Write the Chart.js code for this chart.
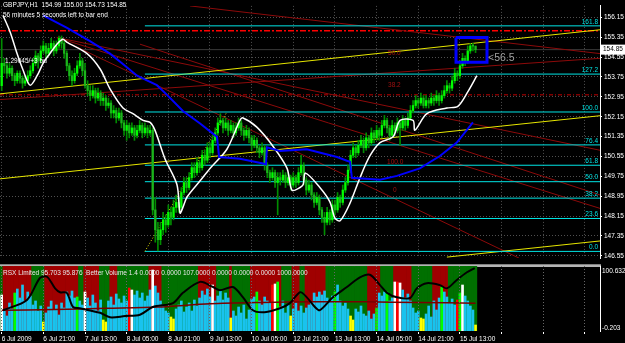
<!DOCTYPE html>
<html>
<head>
<meta charset="utf-8">
<script src="https://cdn.jsdelivr.net/npm/chart.js@4.4.0/dist/chart.umd.min.js"></script>
<style>
html, body { margin: 0; padding: 0; background: #000; }
#wrap { position: relative; width: 625px; height: 343px; background: #000; overflow: hidden; }
canvas { position: absolute; left: 0; }
#main { top: 0; }
#sub { top: 264px; }
</style>
</head>
<body>
<div id="wrap">
  <canvas id="main" width="625" height="264"></canvas>
  <canvas id="sub" width="625" height="79"></canvas>
</div>
<script>
// GBPJPY H1, bar 0 = 6 Jul 2009 00:00
const timeLabels = ['6 Jul 2009', '6 Jul 21:00', '7 Jul 13:00', '8 Jul 05:00', '8 Jul 21:00', '9 Jul 13:00',
    '10 Jul 05:00', '12 Jul 21:00', '13 Jul 13:00', '14 Jul 05:00', '14 Jul 21:00', '15 Jul 13:00'];
const barsPerLabel = 16;
const priceTicks = [146.55, 147.35, 148.15, 148.95, 149.75, 150.55, 151.35, 152.15, 152.95, 153.75, 154.55, 155.35, 156.15];

const firstOpen = 153.4;
const closes = [
    154.3, 154.2, 153.9, 154.1, 153.8, 153.6, 153.9, 153.7, 153.5, 153.6,
    153.8, 154.0, 154.3, 154.6, 154.4, 154.8, 155.0, 154.7, 154.9, 155.1,
    154.8, 155.0, 155.3, 155.1, 154.7, 154.2, 153.8, 153.6, 153.9, 154.2,
    154.4, 154.0, 153.4, 153.2, 153.0, 153.2, 152.9, 153.1, 152.8, 152.9,
    152.6, 152.7, 152.3, 152.4, 152.1, 152.3, 151.9, 151.6, 151.8, 151.5,
    151.7, 151.4, 151.6, 151.8, 151.5, 151.7, 151.5, 151.6, 148.4, 147.6,
    147.2, 147.6, 148.0, 147.8, 148.3, 148.1, 148.5, 148.7, 148.5, 149.1,
    149.5, 149.3, 149.7, 150.1, 149.9, 150.3, 150.1, 150.6, 150.4, 150.9,
    150.7, 151.2, 151.5, 151.9, 152.0, 151.7, 151.9, 151.6, 151.8, 151.5,
    151.7, 151.9, 151.6, 151.4, 151.6, 151.3, 151.0, 151.2, 150.9, 150.7,
    150.9, 150.2, 149.9, 149.7, 149.9, 149.5, 149.7, 149.6, 149.8, 149.5,
    149.7, 149.4, 149.7, 149.5, 149.9, 150.2, 149.6, 149.2, 149.4, 149.0,
    148.7, 148.9, 148.4, 148.1, 147.9, 148.3, 148.0, 148.6, 148.4, 148.9,
    148.7, 149.2, 149.5, 150.0, 150.6, 150.9, 150.7, 151.0, 151.2, 150.9,
    151.3, 151.1, 151.5, 151.3, 151.6, 151.4, 151.8, 152.0, 151.7, 151.4,
    151.8, 151.6, 151.9, 151.7, 152.0, 151.8, 152.1, 152.4, 152.6, 152.8,
    152.7, 152.9, 152.6, 152.8, 152.7, 152.9, 152.8, 153.0, 152.8, 153.0,
    153.2, 153.4, 153.3, 153.6, 153.9, 153.8, 154.2, 154.5, 154.4, 154.8,
    155.0, 154.99, 154.85
];
const highs = [
    155.3, 154.5, 154.3, 154.3, 154.2, 153.9, 154.0, 154.0, 153.8, 153.8,
    154.0, 154.2, 154.5, 154.8, 154.7, 155.0, 155.2, 155.1, 155.1, 155.3,
    155.2, 155.2, 155.4, 155.4, 155.2, 154.8, 154.3, 154.0, 154.1, 154.4,
    154.7, 154.5, 154.3, 153.6, 153.4, 153.4, 153.3, 153.3, 153.2, 153.1,
    153.0, 152.9, 152.8, 152.6, 152.5, 152.5, 152.4, 152.0, 152.0, 151.9,
    151.9, 151.8, 151.8, 152.0, 151.9, 151.9, 151.8, 151.8, 151.7, 148.9,
    147.9, 147.9, 148.3, 148.2, 148.6, 148.5, 148.8, 149.0, 148.9, 149.3,
    149.7, 149.7, 149.9, 150.3, 150.3, 150.5, 150.4, 150.8, 150.8, 151.1,
    151.1, 151.4, 151.7, 152.1, 152.27, 152.1, 152.1, 152.0, 152.0, 151.9,
    151.9, 152.1, 152.0, 151.7, 151.8, 151.7, 151.4, 151.4, 151.3, 151.0,
    151.1, 151.0, 150.3, 150.0, 150.1, 150.0, 149.9, 149.9, 150.0, 149.9,
    149.9, 149.8, 149.9, 149.8, 150.1, 150.6, 150.3, 149.7, 149.6, 149.5,
    149.1, 149.1, 149.0, 148.5, 148.3, 148.5, 148.4, 148.8, 148.8, 149.1,
    149.0, 149.4, 149.7, 150.2, 150.8, 151.1, 151.0, 151.2, 151.4, 151.3,
    151.5, 151.4, 151.7, 151.6, 151.8, 151.7, 152.0, 152.2, 152.1, 151.8,
    152.0, 151.9, 152.1, 152.0, 152.2, 152.1, 152.3, 152.6, 152.8, 153.0,
    152.9, 153.1, 153.0, 153.0, 152.9, 153.1, 153.0, 153.2, 153.1, 153.2,
    153.4, 153.6, 153.5, 153.8, 154.1, 154.0, 154.4, 154.7, 154.6, 155.0,
    155.1, 155.1, 155.00
];
const lows = [
    153.2, 153.9, 153.7, 153.8, 153.6, 153.4, 153.5, 153.5, 153.3, 153.4,
    153.5, 153.7, 153.9, 154.2, 154.1, 154.3, 154.7, 154.5, 154.6, 154.8,
    154.6, 154.7, 154.9, 154.9, 154.5, 154.0, 153.6, 153.4, 153.5, 153.8,
    154.1, 153.8, 153.3, 153.0, 152.8, 152.9, 152.7, 152.8, 152.6, 152.6,
    152.4, 152.5, 152.1, 152.1, 151.9, 152.0, 151.7, 151.4, 151.2, 151.3,
    151.4, 151.2, 151.3, 151.5, 151.3, 151.4, 151.3, 151.4, 148.2, 147.1,
    146.75, 147.0, 147.4, 147.5, 147.7, 147.8, 148.0, 148.3, 148.3, 148.4,
    149.0, 149.1, 149.2, 149.6, 149.7, 149.8, 149.9, 150.0, 150.2, 150.3,
    150.5, 150.6, 151.1, 151.4, 151.8, 151.5, 151.6, 151.4, 151.5, 151.3,
    151.4, 151.6, 151.4, 151.2, 151.3, 151.1, 150.8, 150.9, 150.7, 150.5,
    150.6, 150.0, 149.7, 149.5, 149.6, 149.3, 148.2, 149.4, 149.5, 149.3,
    149.4, 149.2, 149.3, 149.3, 149.4, 149.8, 149.4, 149.0, 149.1, 148.8,
    148.5, 148.6, 148.2, 147.9, 147.4, 147.8, 147.8, 147.9, 148.2, 148.3,
    148.5, 148.6, 149.1, 149.4, 149.9, 150.5, 150.5, 150.6, 150.9, 150.7,
    150.8, 150.9, 151.0, 151.1, 151.2, 151.2, 151.3, 151.7, 151.5, 151.2,
    151.3, 151.4, 151.5, 151.0, 151.6, 151.6, 151.7, 152.0, 152.3, 152.5,
    152.5, 152.6, 152.5, 152.5, 152.5, 152.6, 152.6, 152.7, 152.6, 152.7,
    152.9, 153.1, 153.1, 153.2, 153.5, 153.6, 153.7, 154.1, 154.2, 154.3,
    154.7, 154.8, 154.73
];

// moving averages: [bar, price]
const maFast = [[0.5, 156.23], [3.2, 155.57], [5.9, 154.69], [8.2, 154.03], [10.9, 153.42], [13.6, 153.8],
    [15.9, 154.3], [18.5, 154.69], [21.2, 155.07], [23.5, 155.27], [25, 155.15], [32.8, 154.69], [37.8, 154.07],
    [41.6, 153.27], [46.6, 152.5], [50.4, 152.27], [54.3, 152.0], [57, 151.92], [58.9, 151.6], [62.7, 150.46],
    [67.3, 149.42], [68.5, 148.27], [69.6, 148.5], [71.2, 148.92], [76.2, 149.57], [80, 150.07], [86.5, 150.84],
    [91.5, 152.0], [92.7, 152.1], [98, 151.73], [104.2, 150.96], [109.6, 150.07], [111.5, 149.19], [114.6, 149.3],
    [115.8, 149.42], [116.7, 149.88], [122.2, 149.3], [126, 148.73], [128, 148.07], [130, 147.96], [133.7, 148.65],
    [137.6, 149.69], [141.4, 150.57], [145.3, 151.11], [150.3, 151.34], [153, 152.0], [158, 152.0], [158.7, 151.61],
    [163.3, 152.27], [171, 152.5], [175.2, 152.57], [179, 153.15], [182.5, 153.8]];
const maSlow = [[15.9, 156.23], [25.1, 155.73], [33.9, 155.19], [41.6, 154.69], [46.2, 154.3], [52, 153.8],
    [59.6, 153.42], [63.5, 153.03], [69.6, 152.38], [76.2, 151.88], [82.7, 151.34], [83.5, 150.53], [91.5, 150.46],
    [100.4, 150.27], [101.5, 150.23], [101.9, 150.92], [106.9, 150.77], [117.2, 150.84], [128.8, 150.53],
    [132.6, 150.38], [133.8, 150.34], [134.5, 149.69], [145.3, 149.61], [151.8, 149.77], [160.6, 150.07],
    [168.3, 150.57], [174.8, 151.11], [181, 151.92]];

// fibonacci retracement: from the 8 Jul low to the 9 Jul high
const fibFrom = [55, 146.73];
const fibTo = [86.5, 152.34];
const fibLevels = [0, 23.6, 38.2, 50, 61.8, 76.4, 100, 127.2, 161.8];

// drawn objects: [bar1, price1, bar2, price2]
const channelLines = [[-0.65, 153.07, 229.8, 155.65], [-0.65, 149.65, 229.8, 152.19], [171, 146.50, 229.8, 147.15]];
const redLines = [[72.3, 156.61, 229.8, 154.69], [21.2, 155.34, 229.8, 150.8], [21.2, 155.34, 229.8, 148.46],
    [21.2, 155.34, 198.7, 146.46], [53.1, 155.07, 229.8, 149.0], [-0.65, 152.84, 229.8, 154.5]];
const redLineLabels = [[148.4, 154.69, '50.0'], [148.4, 153.42, '38.2'], [148, 150.3, '100.0'], [150.3, 149.19, '0']];
const redDashDot = 155.61;
const redDashed = [-0.65, 153.03];
const boxCorners = [[174.5, 155.34], [186.4, 155.34], [186.4, 154.34], [174.5, 154.34], [174.5, 155.34]];
const boxNote = '<56.5';
const lastBar = { o: 154.99, h: 155.00, l: 154.73, c: 154.85 };
const headerText = 'GBPJPY,H1  154.99 155.00 154.73 154.85';
const timerText = '56 minutes 5 seconds left to bar end';
const sideNote = '1.29045/+3 bu';

// lower window: Better Volume + RSX
const volume = [
    360, 200, 150, 280, 220, 380, 420, 330, 460, 300,
    390, 350, 260, 300, 200, 250, 90, 180, 240, 300,
    210, 260, 160, 280, 230, 390, 350, 400, 330, 340,
    300, 260, 390, 330, 250, 360, 280, 200, 310, 110,
    90, 300, 340, 260, 370, 320, 280, 350, 300, 430,
    410, 360, 400, 330, 380, 300, 350, 410, 610, 450,
    380, 300, 260, 200, 180, 140, 120, 220, 260, 300,
    190, 240, 280, 200, 310, 250, 330, 400, 360, 420,
    340, 460, 300, 350, 400, 310, 380, 330, 130, 200,
    150, 240, 180, 260, 120, 210, 320, 340, 390, 300,
    260, 340, 300, 280, 460, 470, 490, 240, 300, 180,
    260, 150, 220, 280, 200, 250, 180, 230, 260, 290,
    380, 340, 390, 360, 400, 330, 300, 350, 390, 460,
    300, 250, 280, 220, 150, 110, 220, 190, 250, 170,
    150, 200, 120, 170, 230, 380, 350, 390, 390, 300,
    330, 490, 490, 480, 410, 330, 370, 300, 230, 180,
    200, 130, 120, 170, 250, 140, 300, 210, 330, 440,
    390, 340, 280, 320, 260, 310, 380, 460, 350, 300,
    250, 210, 60
];
// bar colour codes, everything else is the normal blue bar
const volSpecial = { 0: 'w', 5: 'g', 16: 'y', 29: 'g', 32: 'w', 39: 'y', 40: 'y', 49: 'r', 50: 'w', 58: 'w',
    65: 'y', 66: 'y', 81: 'w', 88: 'y', 98: 'g', 104: 'r', 105: 'w', 106: 'g', 111: 'y', 128: 'g', 134: 'y',
    135: 'y', 144: 'g', 148: 'g', 151: 'w', 152: 'r', 153: 'w', 161: 'y', 162: 'y', 169: 'g', 175: 'r',
    176: 'g', 177: 'w', 182: 'y' };
// RSX trend state: [first bar, last bar, 1 = up / -1 = down]
const regimeRuns = [[0, 0, 1], [1, 11, -1], [12, 16, 1], [17, 29, -1], [30, 31, 1], [32, 37, -1], [38, 41, 1],
    [42, 44, -1], [45, 56, 1], [57, 61, -1], [62, 75, 1], [76, 82, -1], [83, 87, 1], [88, 88, -1], [89, 95, 1],
    [96, 107, -1], [108, 111, 1], [112, 114, -1], [115, 116, 1], [117, 124, -1], [125, 140, 1], [141, 145, -1],
    [146, 150, 1], [151, 157, -1], [158, 165, 1], [166, 171, -1], [172, 182, 1]];
const rsx = [[0.5, 32], [9.7, 48], [14.7, 82], [17.4, 84], [20.5, 66], [22.4, 60], [25, 59], [27.4, 37], [30, 35],
    [37.8, 28], [41.6, 21], [47.4, 23], [53.1, 25], [58, 37], [65.8, 43], [69.6, 59], [76.2, 76], [81.2, 68],
    [83.8, 63], [88.8, 68], [92.7, 52], [96.5, 32], [101, 29], [106.9, 35], [110.7, 43], [114.6, 60], [117.2, 52],
    [120.3, 37], [122.2, 32], [127.2, 52], [132.6, 68], [137.6, 83], [141.4, 87], [145.3, 71], [148, 59],
    [151.8, 52], [156.8, 51], [159.5, 66], [163.3, 74], [168.3, 71], [171, 66], [174.8, 79], [178.7, 91], [181.7, 97.5]];
const rsxSignal = [[0, 32], [20, 33], [40, 35], [60, 37], [80, 42], [100, 44], [120, 45], [140, 45], [160, 44], [182, 43]];
const subRange = [-0.203, 100.632];
const subTitle = 'RSX Limited 95.703 95.876  Better Volume 1.4 0.0000 0.0000 107.0000 0.0000 0.0000 0.0000 1000.0000';

// ---- chart building ----
const xMin = -0.65, xMax = 229.8;
const font = '"Liberation Sans", Arial, sans-serif';
const gridColor = '#505050';
const gridIdx = [];
for (let v = 0; v <= xMax; v += barsPerLabel) gridIdx.push(v);
const opens = [firstOpen].concat(closes.slice(0, -1));
const fibPrice = lv => fibFrom[1] + (fibTo[1] - fibFrom[1]) * lv / 100;
const volColours = { b: '#19c3ee', y: '#ffff00', w: '#ffffff', g: '#00ff00', r: '#ff0000' };

function line(points, color, width, extra) {
    return Object.assign({
        type: 'line',
        data: points.map(p => ({ x: p[0], y: p[1] })),
        borderColor: color,
        borderWidth: width,
        pointRadius: 0,
        fill: false,
        tension: 0,
        order: 6
    }, extra || {});
}

const mainSets = [];
fibLevels.forEach(lv => {
    mainSets.push(line([[fibFrom[0], fibPrice(lv)], [xMax, fibPrice(lv)]], '#00e5e5', 1));
});
mainSets.push(line([fibFrom, fibTo], '#e6e600', 1, { borderDash: [1, 2] }));
channelLines.forEach(l => mainSets.push(line([[l[0], l[1]], [l[2], l[3]]], '#e6e600', 1)));
redLines.forEach(l => mainSets.push(line([[l[0], l[1]], [l[2], l[3]]], '#8c0a0a', 1)));
mainSets.push(line([[xMin, redDashDot], [xMax, redDashDot]], '#ff0000', 1.5, { borderDash: [6, 2, 2, 2] }));
mainSets.push(line([redDashed, [xMax, redDashed[1]]], '#c00000', 1, { borderDash: [4, 2, 1, 2] }));
mainSets.push(line([[xMin, lastBar.c], [xMax, lastBar.c]], '#3a3a3a', 1, { order: 7 }));
mainSets.push({
    type: 'bar',
    data: closes.map((c, i) => ({ x: i, y: [lows[i], highs[i]] })),
    backgroundColor: '#008c00',
    barThickness: 1,
    grouped: false,
    order: 3
});
mainSets.push({
    type: 'bar',
    data: closes.map((c, i) => ({ x: i, y: [Math.min(opens[i], c), Math.max(opens[i], c)] })),
    backgroundColor: closes.map((c, i) => c >= opens[i] ? '#00ff00' : '#1cb41c'),
    barThickness: 1.6,
    minBarLength: 1,
    grouped: false,
    order: 2
});
mainSets.push(line(maSlow, '#0000ff', 2, { order: 1 }));
mainSets.push(line(maFast, '#ffffff', 1.5, { order: 1, tension: 0.3 }));
mainSets.push(line(boxCorners, '#0000ff', 3, { order: 0 }));

const mainText = {
    id: 'mainText',
    afterDraw(chart) {
        const { ctx, chartArea: a, scales: { x, y } } = chart;
        ctx.save();
        ctx.textBaseline = 'middle';
        ctx.font = '6.5px ' + font;
        ctx.fillStyle = '#00e5e5';
        ctx.textAlign = 'right';
        fibLevels.forEach(lv => ctx.fillText(lv.toFixed(1), a.right - 2, y.getPixelForValue(fibPrice(lv)) - 4));
        ctx.textAlign = 'left';
        ctx.fillStyle = '#a01010';
        redLineLabels.forEach(l => ctx.fillText(l[2], x.getPixelForValue(l[0]), y.getPixelForValue(l[1])));
        ctx.fillStyle = '#ffffff';
        ctx.fillText(headerText, 3, 5);
        ctx.fillText(timerText, 3, 15);
        ctx.fillText(sideNote, 5, 61);
        ctx.fillStyle = '#a0a0a0';
        ctx.font = '10.5px ' + font;
        ctx.fillText(boxNote, x.getPixelForValue(boxCorners[1][0]) + 1, y.getPixelForValue(154.5));
        const py = y.getPixelForValue(lastBar.c);
        ctx.fillStyle = '#ffffff';
        ctx.fillRect(a.right + 1, py - 5, 24, 10);
        ctx.fillStyle = '#000000';
        ctx.font = '6.5px ' + font;
        ctx.fillText(lastBar.c.toFixed(2), a.right + 3, py);
        ctx.restore();
    }
};

new Chart(document.getElementById('main'), {
    type: 'bar',
    data: { datasets: mainSets },
    options: {
        responsive: false,
        animation: false,
        devicePixelRatio: 1,
        layout: { padding: 0 },
        plugins: { legend: { display: false }, tooltip: { enabled: false } },
        scales: {
            x: {
                type: 'linear', min: xMin, max: xMax, offset: false,
                afterBuildTicks: s => { s.ticks = gridIdx.map(v => ({ value: v })); },
                afterFit: s => { s.height = 0; },
                ticks: { display: false },
                grid: { color: gridColor, drawTicks: false, offset: false },
                border: { display: false, dash: [1, 2] }
            },
            y: {
                type: 'linear', position: 'right', min: 146.46, max: 156.61,
                afterBuildTicks: s => { s.ticks = priceTicks.map(v => ({ value: v })); },
                afterFit: s => { s.width = 25; },
                ticks: { color: '#ffffff', font: { family: font, size: 6.5 }, padding: 2, callback: v => v.toFixed(2) },
                grid: { color: gridColor, tickColor: '#ffffff', tickLength: 2, tickBorderDash: [] },
                border: { color: '#ffffff', width: 1, dash: [1, 2] }
            }
        }
    },
    plugins: [mainText]
});

// lower window
const regime = new Array(closes.length).fill(0);
regimeRuns.forEach(r => { for (let i = r[0]; i <= r[1]; i++) regime[i] = r[2]; });

const subSets = [
    line(rsx, '#000000', 2, { yAxisID: 'y', order: 0, tension: 0.3 }),
    line(rsxSignal, '#7a0000', 1.5, { yAxisID: 'y', order: 1, tension: 0.3 }),
    {
        type: 'bar', yAxisID: 'yv',
        data: volume.map((v, i) => ({ x: i, y: v })),
        backgroundColor: volume.map((v, i) => volColours[volSpecial[i] || 'b']),
        barThickness: 2, grouped: false, order: 2
    },
    {
        type: 'bar', yAxisID: 'yb',
        data: regime.map((r, i) => ({ x: i, y: 1 })),
        backgroundColor: regime.map(r => r > 0 ? '#007000' : '#a00000'),
        barPercentage: 1, categoryPercentage: 1, grouped: false, order: 3
    }
];

const subText = {
    id: 'subText',
    afterDraw(chart) {
        const { ctx, chartArea: a } = chart;
        ctx.save();
        ctx.font = '6.5px ' + font;
        ctx.textBaseline = 'middle';
        ctx.fillStyle = '#e8e8e8';
        ctx.fillText(subTitle, 3, a.top + 7);
        ctx.fillStyle = '#ffffff';
        ctx.fillText(subRange[1].toFixed(3), a.right + 2, a.top + 5);
        ctx.fillText(subRange[0].toFixed(3), a.right + 2, a.bottom - 3);
        ctx.restore();
    }
};

new Chart(document.getElementById('sub'), {
    type: 'bar',
    data: { datasets: subSets },
    options: {
        responsive: false,
        animation: false,
        devicePixelRatio: 1,
        layout: { padding: 0 },
        plugins: { legend: { display: false }, tooltip: { enabled: false } },
        scales: {
            x: {
                type: 'linear', min: xMin, max: xMax, offset: false, position: 'bottom',
                afterBuildTicks: s => { s.ticks = gridIdx.map(v => ({ value: v })); },
                afterFit: s => { s.height = 12; },
                ticks: {
                    color: '#ffffff', font: { family: font, size: 6.5 }, align: 'start', maxRotation: 0,
                    autoSkip: false, padding: 1,
                    callback: v => timeLabels[v / barsPerLabel] || ''
                },
                grid: { color: '#666666', tickColor: '#ffffff', tickLength: 3, tickBorderDash: [], offset: false, z: 1 },
                border: { color: '#ffffff', width: 1, dash: [1, 2] }
            },
            xTop: {
                type: 'linear', min: xMin, max: xMax, position: 'top', offset: false,
                afterFit: s => { s.height = 2; },
                ticks: { display: false },
                grid: { display: false },
                border: { color: '#b4b4b4', width: 2 }
            },
            y: {
                type: 'linear', position: 'right', min: subRange[0], max: subRange[1],
                afterFit: s => { s.width = 25; },
                ticks: { display: false },
                grid: { display: false },
                border: { color: '#ffffff', width: 1 }
            },
            yv: { type: 'linear', display: false, min: 0, max: 650 },
            yb: { type: 'linear', display: false, min: 0, max: 1 }
        }
    },
    plugins: [subText]
});
</script>
</body>
</html>
